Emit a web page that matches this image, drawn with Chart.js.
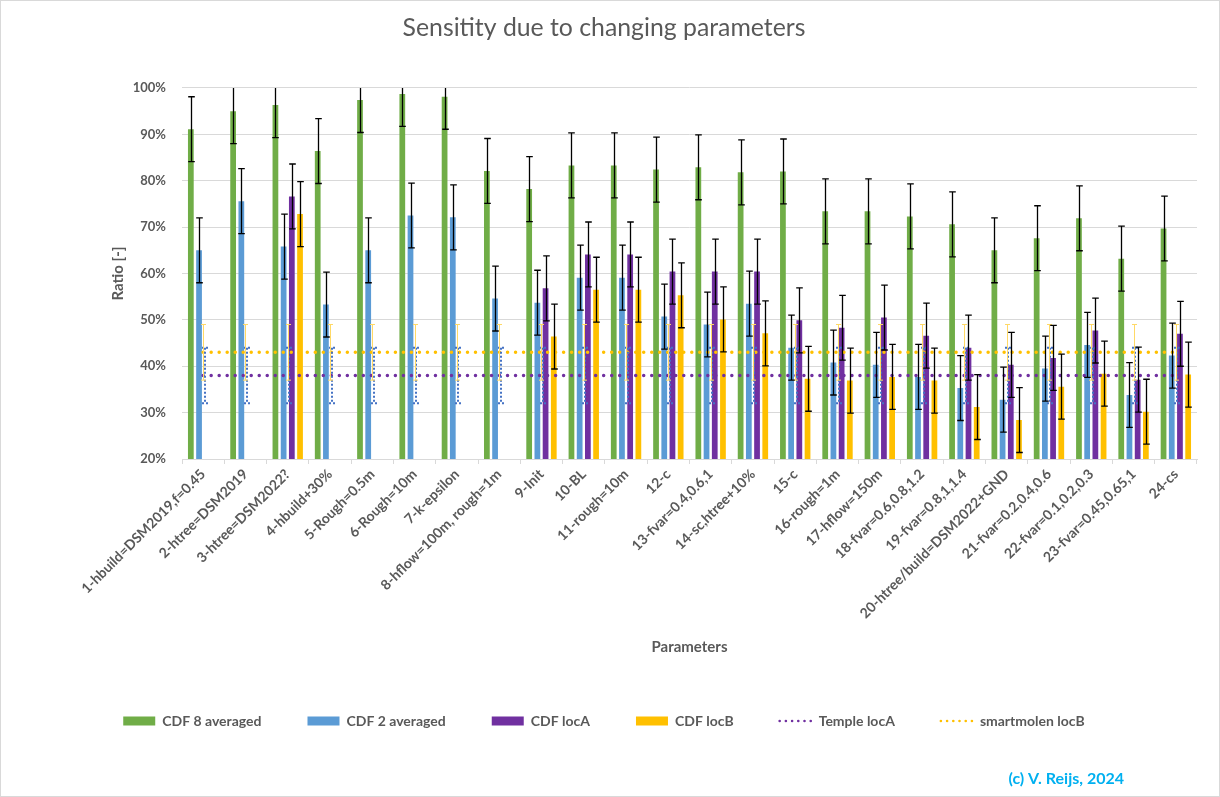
<!DOCTYPE html>
<html>
<head>
<meta charset="utf-8">
<script src="https://cdn.jsdelivr.net/npm/chart.js@4.4.1/dist/chart.umd.min.js"></script>
<style>
  html, body { margin: 0; padding: 0; background: #ffffff; }
  #wrap { width: 1220px; height: 797px; position: relative; }
</style>
</head>
<body>
<div id="wrap"><canvas id="chart" width="1220" height="797"></canvas></div>
<script>
// ---------- data ----------
const categories = [
  "1-hbuild=DSM2019,f=0.45", "2-htree=DSM2019", "3-htree=DSM2022?", "4-hbuild+30%",
  "5-Rough=0.5m", "6-Rough=10m", "7-k-epsilon", "8-hflow=100m, rough=1m",
  "9-Init", "10-BL", "11-rough=10m", "12-c",
  "13-fvar=0.4,0.6,1", "14-sc,htree+10%", "15-c", "16-rough=1m",
  "17-hflow=150m", "18-fvar=0.6,0.8,1.2", "19-fvar=0.8,1,1.4", "20-htree/build=DSM2022+GND",
  "21-fvar=0.2,0.4,0.6", "22-fvar=0.1,0.2,0.3", "23-fvar=0.45,0.65,1", "24-cs"
];
const cdf8Averaged = [91.1, 95.0, 96.3, 86.4, 97.4, 98.7, 98.1, 82.1, 78.2, 83.3, 83.3, 82.4,
                      82.9, 81.8, 82.0, 73.4, 73.4, 72.3, 70.6, 65.0, 67.6, 71.9, 63.2, 69.7];
const cdf2Averaged = [65.0, 75.6, 65.8, 53.3, 65.0, 72.5, 72.1, 54.6, 53.7, 59.1, 59.1, 50.7,
                      49.0, 53.5, 44.0, 40.8, 40.3, 37.7, 35.3, 32.8, 39.5, 44.6, 33.8, 42.3];
const cdfLocA = [null, null, 76.6, null, null, null, null, null, 56.8, 64.1, 64.1, 60.4,
                 60.4, 60.4, 49.9, 48.3, 50.5, 46.6, 44.0, 40.3, 41.8, 47.7, 37.1, 47.0];
const cdfLocB = [null, null, 72.8, null, null, null, null, null, 46.4, 56.5, 56.5, 55.3,
                 50.1, 47.1, 37.3, 36.9, 37.7, 36.9, 31.2, 28.4, 35.6, 38.4, 30.2, 38.2];
const templeLocA = [38, 38, 38, 38, 38, 38, 38, 38, 38, 38, 38, 38,
                    38, 38, 38, 38, 38, 38, 38, 38, 38, 38, 38, 38];
const smartmolenLocB = [43, 43, 43, 43, 43, 43, 43, 43, 43, 43, 43, 43,
                        43, 43, 43, 43, 43, 43, 43, 43, 43, 43, 43, 43];
const cdfErrorMargin = 7;        // +/- percentage points
const templeErrorMargin = 6;
const smartmolenErrorMargin = 6;
const yTickValues = [20, 30, 40, 50, 60, 70, 80, 90, 100];
const yTickLabels = ["20%", "30%", "40%", "50%", "60%", "70%", "80%", "90%", "100%"];

// ---------- styling ----------
const GRAY = '#595959';
const FONT = 'Lato, "Open Sans", sans-serif';
Chart.defaults.font.family = FONT;
Chart.defaults.color = GRAY;

const errorBarPlugin = {
  id: 'errorBars',
  afterDatasetsDraw(chart) {
    const { ctx, chartArea, scales: { y } } = chart;
    ctx.save();
    ctx.beginPath();
    ctx.rect(chartArea.left, chartArea.top, chartArea.right - chartArea.left, chartArea.bottom - chartArea.top);
    ctx.clip();
    const order = chart.data.datasets.map((d, i) => i).sort((a, b) => {
      const la = chart.data.datasets[a].type === 'line' ? 0 : 1;
      const lb = chart.data.datasets[b].type === 'line' ? 0 : 1;
      return la - lb || a - b;
    });
    order.forEach(di => {
      const ds = chart.data.datasets[di];
      const m = ds.errorMargin;
      if (!m) return;
      const meta = chart.getDatasetMeta(di);
      ctx.strokeStyle = ds.errorColor;
      ctx.lineWidth = ds.errorWidth;
      ctx.setLineDash(ds.errorDash || []);
      meta.data.forEach((el, i) => {
        const v = ds.data[i];
        if (v === null || v === undefined) return;
        const x = Math.round(el.x + (ds.errorOffset || 0)) + (ds.errorWidth % 2 ? 0.5 : 0);
        const yt = y.getPixelForValue(v + m);
        const yb = y.getPixelForValue(v - m);
        const cw = ds.errorCap;
        ctx.beginPath();
        ctx.moveTo(x, yt); ctx.lineTo(x, yb);
        ctx.moveTo(x - cw, yt); ctx.lineTo(x + cw, yt);
        ctx.moveTo(x - cw, yb); ctx.lineTo(x + cw, yb);
        ctx.stroke();
      });
    });
    ctx.restore();
  }
};

const framePlugin = {
  id: 'frame',
  beforeDraw(chart) {
    const { ctx, width, height } = chart;
    ctx.save();
    ctx.fillStyle = '#ffffff';
    ctx.fillRect(0, 0, width, height);
    ctx.restore();
  },
  afterDraw(chart) {
    const { ctx, width, height } = chart;
    ctx.save();
    ctx.strokeStyle = '#D9D9D9';
    ctx.lineWidth = 1;
    ctx.strokeRect(0.5, 0.5, width - 1, height - 1);
    ctx.font = 'bold 16px ' + FONT;
    ctx.fillStyle = '#00B0F0';
    ctx.textAlign = 'right';
    ctx.textBaseline = 'middle';
    ctx.fillText('(c) V. Reijs, 2024', 1124, 779);
    ctx.restore();
  }
};

const barCommon = { categoryPercentage: 0.776, barPercentage: 0.7, order: 1,
  errorMargin: cdfErrorMargin, errorColor: '#000000', errorWidth: 1.3, errorCap: 3.3 };

new Chart(document.getElementById('chart'), {
  type: 'bar',
  data: {
    labels: categories,
    datasets: [
      Object.assign({ label: 'CDF 8 averaged', data: cdf8Averaged, backgroundColor: '#70AD47' }, barCommon),
      Object.assign({ label: 'CDF 2 averaged', data: cdf2Averaged, backgroundColor: '#5B9BD5' }, barCommon),
      Object.assign({ label: 'CDF locA', data: cdfLocA, backgroundColor: '#7030A0' }, barCommon),
      Object.assign({ label: 'CDF locB', data: cdfLocB, backgroundColor: '#FFC000' }, barCommon),
      { type: 'line', label: 'Temple locA', data: templeLocA, borderColor: '#7030A0', backgroundColor: '#7030A0',
        borderWidth: 3.5, borderDash: [0.01, 8], borderCapStyle: 'round', pointRadius: 0, fill: false, order: 0,
        errorMargin: templeErrorMargin, errorColor: '#4472C4', errorWidth: 2, errorDash: [2, 2], errorCap: 3, errorOffset: 1.5 },
      { type: 'line', label: 'smartmolen locB', data: smartmolenLocB, borderColor: '#FFC000', backgroundColor: '#FFC000',
        borderWidth: 3.5, borderDash: [0.01, 8], borderCapStyle: 'round', pointRadius: 0, fill: false, order: 0,
        errorMargin: smartmolenErrorMargin, errorColor: '#FFD966', errorWidth: 1, errorCap: 2.5, errorOffset: 0 }
    ]
  },
  options: {
    responsive: false,
    animation: false,
    events: [],
    layout: { padding: { left: 11, right: 23, top: 13, bottom: 59 } },
    plugins: {
      title: {
        display: true,
        text: 'Sensitity due to changing parameters',
        font: { size: 24.8, weight: 'normal' },
        color: GRAY,
        padding: { top: 0, bottom: 45.2 }
      },
      legend: {
        position: 'bottom',
        labels: {
          usePointStyle: true,
          pointStyleWidth: 32,
          boxWidth: 32,
          boxHeight: 9,
          padding: 46,
          font: { size: 14, weight: 'bold' },
          color: GRAY,
          sort: (a, b) => a.datasetIndex - b.datasetIndex,
          generateLabels(chart) {
            const items = Chart.defaults.plugins.legend.labels.generateLabels(chart);
            items.forEach(it => {
              const ds = chart.data.datasets[it.datasetIndex];
              if (ds.type === 'line') {
                it.pointStyle = 'line';
                it.lineCap = 'round';
                it.lineDash = [0.01, 6.2];
                it.lineWidth = 2.6;
                it.strokeStyle = ds.borderColor;
                it.fillStyle = ds.borderColor;
              } else {
                it.pointStyle = 'rect';
                it.lineWidth = 0;
                it.strokeStyle = 'rgba(0,0,0,0)';
                it.fillStyle = ds.backgroundColor;
              }
            });
            return items;
          }
        }
      },
      tooltip: { enabled: false }
    },
    scales: {
      x: {
        grid: { drawOnChartArea: false, drawTicks: true, tickLength: 5, color: '#D9D9D9', offset: true },
        border: { display: true, color: '#D9D9D9' },
        ticks: { minRotation: 45, maxRotation: 45, autoSkip: false, font: { size: 14, weight: 'bold' }, color: GRAY, padding: 2 },
        title: { display: true, text: 'Parameters', font: { size: 15, weight: 'bold' }, color: GRAY, padding: { top: 0, bottom: 12 } },
        afterFit(s) { s.height = 209; }
      },
      y: {
        min: 20,
        max: 100,
        afterBuildTicks(s) { s.ticks = yTickValues.map(v => ({ value: v })); },
        ticks: { callback: (v, i) => yTickLabels[i], font: { size: 13, weight: 'bold' }, color: GRAY, padding: 16 },
        grid: { color: '#D9D9D9', drawTicks: false },
        border: { display: false },
        title: { display: true, text: 'Ratio [-]', font: { size: 15, weight: 'bold' }, color: GRAY, padding: { top: 98, bottom: 0 } },
        afterFit(s) { s.width = 171; }
      }
    }
  },
  plugins: [errorBarPlugin, framePlugin]
});
</script>
</body>
</html>
